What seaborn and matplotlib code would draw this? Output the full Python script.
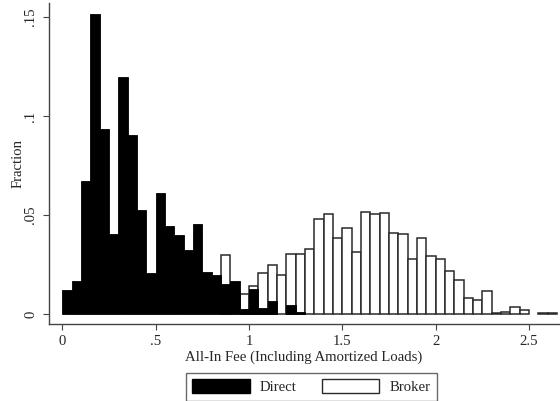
import numpy as np
import pandas as pd
import matplotlib
matplotlib.use("Agg")
import matplotlib.pyplot as plt
import seaborn as sns
from matplotlib.patches import Patch

# bins of width 0.05 starting at 0
bin_width = 0.05
bin_starts = [round(i * 0.05, 2) for i in range(53)]

direct = [0.0121, 0.0168, 0.0670, 0.1513, 0.0932, 0.0404, 0.1197, 0.0906,
          0.0525, 0.0209, 0.0611, 0.0444, 0.0399, 0.0326, 0.0455, 0.0214,
          0.0199, 0.0155, 0.0168, 0.0027, 0.0126, 0.0033, 0.0066, 0.0,
          0.0045, 0.0010] + [0.0] * 27

broker = [0.0] * 17 + [0.0298, 0.0, 0.0101, 0.0145, 0.0209, 0.0250, 0.0199,
          0.0305, 0.0305, 0.0331, 0.0483, 0.0505, 0.0387, 0.0437, 0.0316,
          0.0518, 0.0505, 0.0510, 0.0412, 0.0404, 0.0281, 0.0387, 0.0296,
          0.0281, 0.0219, 0.0175, 0.0083, 0.0072, 0.0118, 0.0004, 0.0012,
          0.0038, 0.0021, 0.0, 0.0004, 0.0004]

x_ticks = [0, 0.5, 1, 1.5, 2, 2.5]
x_ticklabels = ["0", ".5", "1", "1.5", "2", "2.5"]
y_ticks = [0, 0.05, 0.1, 0.15]
y_ticklabels = ["0", ".05", ".1", ".15"]

sns.set_style("white")
plt.rcParams['font.family'] = ['Liberation Serif', 'DejaVu Serif']

FS = 10.6

centers = np.array(bin_starts) + bin_width / 2
df_b = pd.DataFrame({"fee": centers, "w": broker})
df_d = pd.DataFrame({"fee": centers, "w": direct})

fig = plt.figure(figsize=(5.6, 4.01), dpi=100)
ax = fig.add_axes([49 / 560, (401 - 324) / 401, (559 - 49) / 560, (324 - 3) / 401])

sns.histplot(data=df_b, x="fee", weights="w", binwidth=bin_width, binrange=(0, 2.65),
             ax=ax, color="white", edgecolor="#2a2a2a", linewidth=1.1, alpha=1)
sns.histplot(data=df_d, x="fee", weights="w", binwidth=bin_width, binrange=(0, 2.65),
             ax=ax, color="black", edgecolor="black", linewidth=0.6, alpha=1)
for p in ax.patches:
    if p.get_height() <= 0:
        p.set_visible(False)

ax.set_xlim(-0.0712, 2.66)
ax.set_ylim(-0.0049, 0.157)
for s in ["top", "right"]:
    ax.spines[s].set_visible(False)
for s in ["left", "bottom"]:
    ax.spines[s].set_color("#444444")
    ax.spines[s].set_linewidth(1.0)

ax.set_xticks(x_ticks)
ax.set_xticklabels(x_ticklabels)
ax.set_yticks(y_ticks)
ax.set_yticklabels(y_ticklabels, rotation=90, va="center")
ax.tick_params(axis="both", which="major", direction="out", length=4.5,
               width=0.8, color="#444444", labelsize=FS, bottom=True, left=True)
ax.tick_params(axis="x", pad=3.5)
ax.tick_params(axis="y", pad=4)

ax.set_xlabel("All-In Fee (Including Amortized Loads)", fontsize=FS, labelpad=1.5)
ax.set_ylabel("Fraction", fontsize=FS, labelpad=0)

handles = [Patch(facecolor="black", edgecolor="black", label="Direct"),
           Patch(facecolor="white", edgecolor="#2a2a2a", linewidth=1.0, label="Broker")]
leg = fig.legend(handles=handles, loc="lower center", bbox_to_anchor=(311.5 / 560, 0.0),
                 ncol=2, frameon=True, fancybox=False, fontsize=FS,
                 handlelength=3.9, handleheight=1.1, handletextpad=0.7,
                 columnspacing=1.7, borderpad=0.45, borderaxespad=0.0)
leg.get_frame().set_edgecolor("#444444")
leg.get_frame().set_linewidth(1.0)

fig.savefig("out.png", dpi=100, facecolor="white")
